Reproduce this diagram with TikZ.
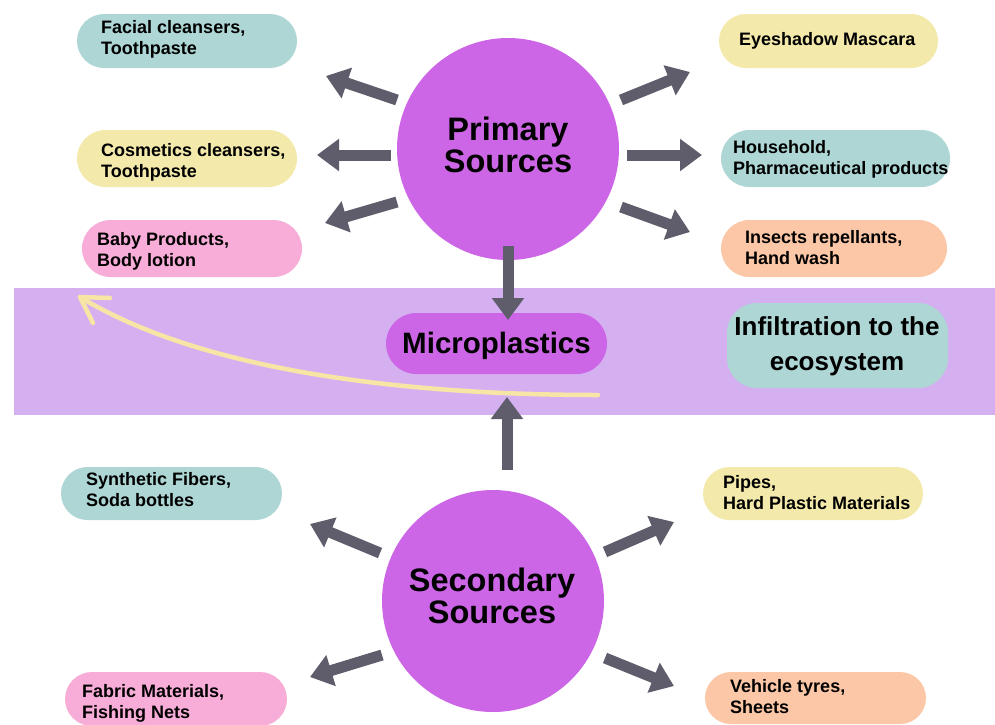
\documentclass[tikz,border=0pt]{standalone}
\usepackage{fontspec}
\setmainfont{Liberation Sans}
\usetikzlibrary{arrows.meta,shapes.misc}
\definecolor{cpurp}{HTML}{CD66E6}
\definecolor{cband}{HTML}{D5B0F1}
\definecolor{cteal}{HTML}{ADD6D5}
\definecolor{cyell}{HTML}{F3E9AA}
\definecolor{cpink}{HTML}{F7ADD8}
\definecolor{cpeach}{HTML}{FCC7A7}
\definecolor{cgray}{HTML}{5F5D6B}
\definecolor{cline}{HTML}{F5E6A5}
\newcommand\mlines[2][l]{\begin{tabular}[t]{@{}#1@{}}#2\end{tabular}}
\tikzset{
  pill/.style={rounded rectangle, fill=#1, inner sep=0pt, draw=none},
  pilltext/.style={anchor=base west, inner sep=0pt, font=\bfseries\fontsize{18}{21.5}\selectfont},
  bigtext/.style={anchor=base, inner sep=0pt, font=\bfseries\fontsize{32.5}{32}\selectfont},
  bigarrow/.style={draw=cgray, line width=11pt, -{Triangle[length=22pt,width=31pt]}},
}
\begin{document}
\begin{tikzpicture}[x=1pt,y=-1pt]
\fill[white] (0,0) rectangle (995,724);
\useasboundingbox (0,0) rectangle (995,724);
% band
\fill[cband] (14,288) rectangle (995,415);
% circles
\node[circle, fill=cpurp, minimum size=222pt, inner sep=0pt] (P) at (508,149) {};
\node[circle, fill=cpurp, minimum size=222pt, inner sep=0pt] (S) at (493,601) {};
\node[bigtext] (Pt) at (508,140) {\mlines[c]{Primary\\Sources}};
\node[bigtext] (St) at (492,591) {\mlines[c]{Secondary\\Sources}};
% pills
\node[pill=cteal, minimum width=220pt, minimum height=54pt] (p1) at (187,41) {};
\node[pill=cyell, minimum width=220pt, minimum height=57pt] (p2) at (187,158.5) {};
\node[pill=cpink, minimum width=220pt, minimum height=57pt] (p3) at (192,248.5) {};
\node[pill=cyell, minimum width=219pt, minimum height=54pt] (p4) at (828.5,41) {};
\node[pill=cteal, minimum width=229pt, minimum height=57pt] (p5) at (835.5,158.5) {};
\node[pill=cpeach, minimum width=226pt, minimum height=57pt] (p6) at (834,248.5) {};
\node[pill=cteal, minimum width=221pt, minimum height=53pt] (p7) at (171.5,493.5) {};
\node[pill=cpink, minimum width=222pt, minimum height=54pt] (p8) at (176,699) {};
\node[pill=cyell, minimum width=220pt, minimum height=53pt] (p9) at (813,493.5) {};
\node[pill=cpeach, minimum width=221pt, minimum height=52pt] (p10) at (815.5,698) {};
\node[pilltext] (t1) at (101,33) {\mlines{Facial cleansers,\\Toothpaste}};
\node[pilltext] (t2) at (101,156) {\mlines{Cosmetics cleansers,\\Toothpaste}};
\node[pilltext] (t3) at (97,245) {\mlines{Baby Products,\\Body lotion}};
\node[pilltext] (t4) at (739,45) {Eyeshadow Mascara};
\node[pilltext] (t5) at (733,153) {\mlines{Household,\\Pharmaceutical products}};
\node[pilltext] (t6) at (745,243) {\mlines{Insects repellants,\\Hand wash}};
\node[pilltext] (t7) at (86,485) {\mlines{Synthetic Fibers,\\Soda bottles}};
\node[pilltext] (t8) at (82,697) {\mlines{Fabric Materials,\\Fishing Nets}};
\node[pilltext] (t9) at (723,488) {\mlines{Pipes,\\Hard Plastic Materials}};
\node[pilltext] (t10) at (730,692) {\mlines{Vehicle tyres,\\Sheets}};
% centre band nodes
\node[pill=cpurp, minimum width=221pt, minimum height=61pt] (M) at (496.5,343.5) {};
\node[anchor=base, inner sep=0pt, font=\bfseries\fontsize{29.5}{30}\selectfont] (Mt) at (496.5,353) {Microplastics};
\node[fill=cteal, rounded corners=30pt, minimum width=221pt, minimum height=85pt, inner sep=0pt] (I) at (837.5,345.5) {};
\node[anchor=base, inner sep=0pt, font=\bfseries\fontsize{26}{35.5}\selectfont] (It) at (837,335) {\mlines[c]{Infiltration to the\\ecosystem}};
% yellow hand-drawn arrow
\coordinate (y0) at (598,395);
\coordinate (y1) at (80,297);
\coordinate (y2) at (110,298);
\coordinate (y3) at (93,323);
\draw[cline, line width=4.5pt, line cap=round] (y0) .. controls (400,395) and (200,370) .. (y1);
\draw[cline, line width=4.5pt, line cap=round, line join=round] (y2) -- (y1) -- (y3);
% arrows from primary
\coordinate (a1) at (397,100); \coordinate (b1) at (326,76);
\coordinate (a2) at (391,155); \coordinate (b2) at (317,155);
\coordinate (a3) at (397,202); \coordinate (b3) at (325,223);
\coordinate (a4) at (621,100); \coordinate (b4) at (690,72);
\coordinate (a5) at (627,155); \coordinate (b5) at (702,155);
\coordinate (a6) at (621,207); \coordinate (b6) at (690,232);
\coordinate (a7) at (508,246); \coordinate (b7) at (508,320);
% arrows from secondary
\coordinate (c1) at (507,470); \coordinate (d1) at (507,397);
\coordinate (c2) at (380,553); \coordinate (d2) at (310,524);
\coordinate (c3) at (382,655); \coordinate (d3) at (310,677);
\coordinate (c4) at (605,552); \coordinate (d4) at (674,522);
\coordinate (c5) at (605,658); \coordinate (d5) at (674,686);
\foreach \s/\e in {a1/b1,a2/b2,a3/b3,a4/b4,a5/b5,a6/b6,a7/b7,c1/d1,c2/d2,c3/d3,c4/d4,c5/d5}
  \draw[bigarrow] (\s) -- (\e);
\end{tikzpicture}
\end{document}
